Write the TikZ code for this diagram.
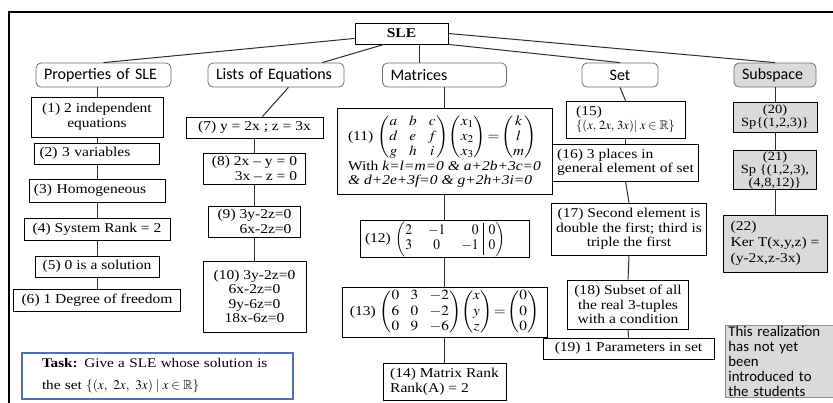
\documentclass[tikz,border=0pt]{standalone}
\usepackage{amsmath,amssymb}
\usepackage{mathptmx}
\usepackage{graphicx}
\usepackage{fontspec}
\setmainfont{Liberation Serif}[FakeStretch=1.15]
\newfontfamily\catfamily{Carlito}
\usetikzlibrary{calc}
\definecolor{catgray}{RGB}{110,110,110}
\definecolor{subgray}{RGB}{218,218,218}
\definecolor{taskblue}{RGB}{79,114,180}
\definecolor{linkgray}{RGB}{45,45,45}
\newcommand{\bodysize}{\fontsize{13.5}{14.5}\selectfont}
\newcommand{\subsize}{\fontsize{12.6}{13}\selectfont}
\newcommand{\catsize}{\catfamily\fontsize{16}{17}\selectfont}
\newcommand{\widemath}[1]{\scalebox{1.13}[1.04]{$#1$}}

\begin{document}
\begin{tikzpicture}[
    x=1pt, y=-1pt,
    box/.style={
      draw, line width=0.8pt, fill=white, inner xsep=5pt,
      inner ysep=1pt, font=\bodysize
    },
    catbox/.style={
      draw=catgray, line width=0.8pt, fill=white, rounded corners=5pt,
      minimum height=24, inner xsep=8pt, font=\catsize
    },
    subbox/.style={box, fill=subgray},
    taskbox/.style={
      draw=taskblue, line width=1.4pt, fill=white, align=left,
      font=\fontsize{13.2}{22}\selectfont
    },
    notebox/.style={
      draw=black!45, line width=0.8pt, fill=subgray, align=left,
      font=\catfamily\fontsize{14.8}{15.2}\selectfont
    },
    link/.style={draw=linkgray, line width=1pt},
  ]
  \useasboundingbox (0,0) rectangle (833,402);

  % Outer frame (only top and left edge visible)
  \draw[line width=1.5pt] (9,420) -- (9,12) -- (850,12);

  % Root and headings
  \node[box, minimum width=93, minimum height=21, font=\bodysize\bfseries]
    (sle) at (401.5,33.5) {SLE};
  \node[catbox, text width=119, align=left] (props) at (103.5,75)
    {Properties of SLE};
  \node[catbox, text width=120, align=left] (lists) at (276,75)
    {Lists of Equations};
  \node[catbox, text width=108, align=left] (matr) at (444.5,75)
    {Matrices};
  \node[catbox, minimum width=76, align=center] (setc) at (620,75) {Set};
  \node[catbox, text width=66, align=left, fill=subgray] (subs) at (775,75)
    {Subspace};

  \draw[link] (sle.186) -- (props.north);
  \draw[link] (sle.212) -- (lists.15);
  \draw[link] (sle.329) -- (sle.329 |- matr.north);
  \draw[link] (sle.south east) -- (setc.north);
  \draw[link] (sle.east) -- (subs.north);

  % --- Properties of SLE ---
  \node[box, minimum width=132, minimum height=40, align=center] (p1)
    at (97,117) {(1) 2 independent\\equations};
  \node[box, text width=115, minimum height=21, align=left] (p2)
    at (97,153.5) {(2) 3 variables};
  \node[box, text width=126, minimum height=23, align=left] (p3)
    at (97,190.5) {(3) Homogeneous};
  \node[box, minimum width=146, minimum height=22] (p4)
    at (97,229) {(4) System Rank = 2};
  \node[box, minimum width=124, minimum height=21] (p5)
    at (97,266.5) {(5) 0 is a solution};
  \node[box, minimum width=167, minimum height=22] (p6)
    at (97,300) {(6) 1 Degree of freedom};

  \draw[link] (p1.north |- props.south) -- (p1.north);
  \foreach \a/\b in {p1/p2, p2/p3, p3/p4, p4/p5, p5/p6}
    \draw[link] (\a) -- (\b);

  % --- Lists of Equations ---
  \node[box, minimum width=137, minimum height=21] (l7)
    at (254.5,127.5) {(7) y = 2x ; z = 3x};
  \node[box, minimum width=102, minimum height=31, align=right] (l8)
    at (254.5,168.5) {(8) 2x – y = 0\\3x – z = 0};
  \node[box, minimum width=92, minimum height=31, align=right] (l9)
    at (254.5,221.5) {(9) 3y-2z=0\\6x-2z=0};
  \node[box, minimum width=103, minimum height=71, align=center] (l10)
    at (254.5,296.5) {(10) 3y-2z=0\\6x-2z=0\\9y-6z=0\\18x-6z=0};

  \draw[link] (lists.315) -- (l7.54);
  \foreach \a/\b in {l7/l8, l8/l9, l9/l10}
    \draw[link] (\a) -- (\b);

  % --- Matrices ---
  \node[box, minimum width=215, minimum height=86, align=left] (m11)
    at (444.5,151)
    {(11) \widemath{\begin{pmatrix} a & b & c\\ d & e & f\\ g & h & i\end{pmatrix}
      \!\begin{pmatrix} x_1\\ x_2\\ x_3\end{pmatrix}\!=\!
      \begin{pmatrix} k\\ l\\ m\end{pmatrix}}\\
     With \textit{k=l=m=0 \& a+2b+3c=0}\\
     \textit{\& d+2e+3f=0 \& g+2h+3i=0}};
  \node[box, text width=159, minimum height=34, align=left] (m12)
    at (444.5,239)
    {(12) \scalebox{1}[1.08]{$\left(\begin{array}{@{}l@{\hspace{16pt}}c@{\hspace{16pt}}r|l@{}}
      2 & -1 & 0 & 0\\ 3 & 0 & -1 & 0\end{array}\right)$}};
  \node[box, minimum width=205, minimum height=50] (m13)
    at (444.5,312)
    {(13) \widemath{\begin{pmatrix} 0 & 3 & -2\\ 6 & 0 & -2\\ 0 & 9 & -6\end{pmatrix}
      \!\begin{pmatrix} x\\ y\\ z\end{pmatrix}\!=\!
      \begin{pmatrix} 0\\ 0\\ 0\end{pmatrix}}};
  \node[box, minimum width=123, minimum height=37, align=left] (m14)
    at (444.5,381.5) {(14) Matrix Rank\\Rank(A) = 2};

  \foreach \a/\b in {matr/m11, m11/m12, m12/m13, m13/m14}
    \draw[link] (\a) -- (\b);

  % --- Set ---
  \node[box, minimum width=119, minimum height=37, align=left] (s15)
    at (625.5,119.5)
    {(15)\\{\fontsize{12.5}{13}\selectfont
      $\{(x,\,2x,\,3x)|\; x \in \mathbb{R}\}$}};
  \node[box, minimum width=137, minimum height=37, align=left] (s16)
    at (625.5,162.5) {(16) 3 places in\\general element of set};
  \node[box, minimum width=150, minimum height=52, align=center] (s17)
    at (629,229)
    {(17) Second element is\\double the first; third is\\triple the first};
  \node[box, minimum width=121, minimum height=49, align=center] (s18)
    at (628,304.5)
    {(18) Subset of all\\the real 3-tuples\\with a condition};
  \node[box, minimum width=171, minimum height=21] (s19)
    at (628.5,348.5) {(19) 1 Parameters in set};

  \foreach \a/\b in {setc/s15, s15/s16, s16/s17, s17/s18, s18/s19}
    \draw[link] (\a.south) -- (\b.north);

  % --- Subspace ---
  \node[subbox, minimum width=84, minimum height=30, align=center,
    font=\subsize] (u20) at (775,117) {(20)\\Sp\{(1,2,3)\}};
  \node[subbox, minimum width=83, minimum height=38, align=center,
    font=\subsize] (u21) at (775,170) {(21)\\Sp \{(1,2,3),\\(4,8,12)\}};
  \node[subbox, minimum width=104, minimum height=57, align=left,
    font=\fontsize{13.5}{16}\selectfont] (u22) at (775,243.5)
    {(22)\\Ker T(x,y,z) =\\(y-2x,z-3x)};

  \foreach \a/\b in {subs/u20, u20/u21, u21/u22}
    \draw[link] (\a) -- (\b);

  % --- Task and note ---
  \node[taskbox, text width=231, minimum height=46, inner xsep=20pt]
    (task) at (157.5,376)
    {\textbf{Task:} Give a SLE whose solution is\\
     the set $\{(x,\ 2x,\ 3x) \mid x \in \mathbb{R}\}$};
  \node[notebox, text width=105, inner xsep=3pt, inner ysep=0.5pt,
    anchor=north west] (note) at (725,325)
    {This realization\\has not yet\\been\\introduced to\\the students};

\end{tikzpicture}
\end{document}
